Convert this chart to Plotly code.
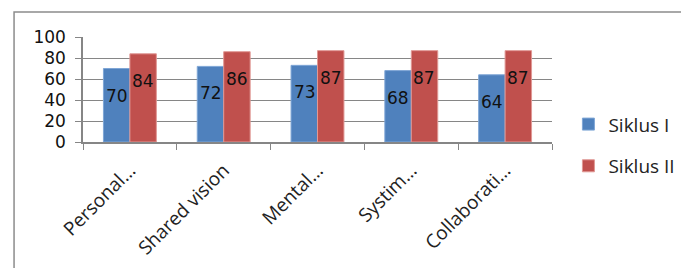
import plotly.graph_objects as go

categories = ["Personal…", "Shared vision", "Mental…", "Systim…", "Collaborati…"]
siklus1 = [70, 72, 73, 68, 64]
siklus2 = [84, 86, 87, 87, 87]
series_names = ["Siklus I", "Siklus II"]
y_ticks = [0, 20, 40, 60, 80, 100]

BLUE = "#4F81BD"
RED = "#C0504D"
NUM_FONT = "DejaVu Sans"
TXT_FONT = "Open Sans"

fig = go.Figure()
fig.add_trace(go.Bar(x=categories, y=siklus1, name=series_names[0],
                     marker=dict(color=BLUE, line=dict(color="#7FA6D6", width=1)),
                     legendgroup="a"))
fig.add_trace(go.Bar(x=categories, y=siklus2, name=series_names[1],
                     marker=dict(color=RED, line=dict(color="#E09894", width=1)),
                     legendgroup="b"))

annotations = []
for vals, shift in ((siklus1, -13), (siklus2, 13)):
    for c, v in zip(categories, vals):
        annotations.append(dict(x=c, y=v, xref="x", yref="y", text=str(v),
                                showarrow=False, yanchor="top", xanchor="center",
                                xshift=shift, yshift=-15,
                                font=dict(family=NUM_FONT, size=17, color="#111111")))

fig.update_layout(
    width=681, height=268,
    margin=dict(l=83, r=129, t=37, b=126, autoexpand=False),
    paper_bgcolor="white", plot_bgcolor="white",
    barmode="group", bargap=0.436, bargroupgap=0,
    showlegend=True,
    legend=dict(x=1.035, xanchor="left", y=0.35, yanchor="top",
                font=dict(family=TXT_FONT, size=19, color="#222222"),
                tracegroupgap=14, itemwidth=30, bgcolor="rgba(0,0,0,0)"),
    annotations=annotations,
    shapes=[dict(type="rect", xref="paper", yref="paper",
                 x0=-0.147, x1=1.3, y0=-1.4, y1=1.238,
                 line=dict(color="#8C8C8C", width=1.5), fillcolor="rgba(0,0,0,0)",
                 layer="below")],
)
fig.update_xaxes(
    automargin=False,
    showline=True, linecolor="#868686", linewidth=1.5,
    ticks="outside", tickson="boundaries", ticklen=6, tickcolor="#868686",
    tickangle=-45, tickfont=dict(family=TXT_FONT, size=19, color="#222222"),
    ticklabelstandoff=8,
    showgrid=False,
)
fig.update_yaxes(
    automargin=False,
    range=[0, 100], tickvals=y_ticks, showline=True, linecolor="#868686", linewidth=1.5,
    ticks="outside", ticklen=6, tickcolor="#868686",
    showgrid=True, gridcolor="#868686", gridwidth=1.2,
    tickfont=dict(family=NUM_FONT, size=17, color="#111111"),
    ticklabelstandoff=6, zeroline=False,
)

fig.write_html("out.html", config={"displayModeBar": False},
               post_script="document.body.style.margin='0';document.body.style.overflow='hidden';")
